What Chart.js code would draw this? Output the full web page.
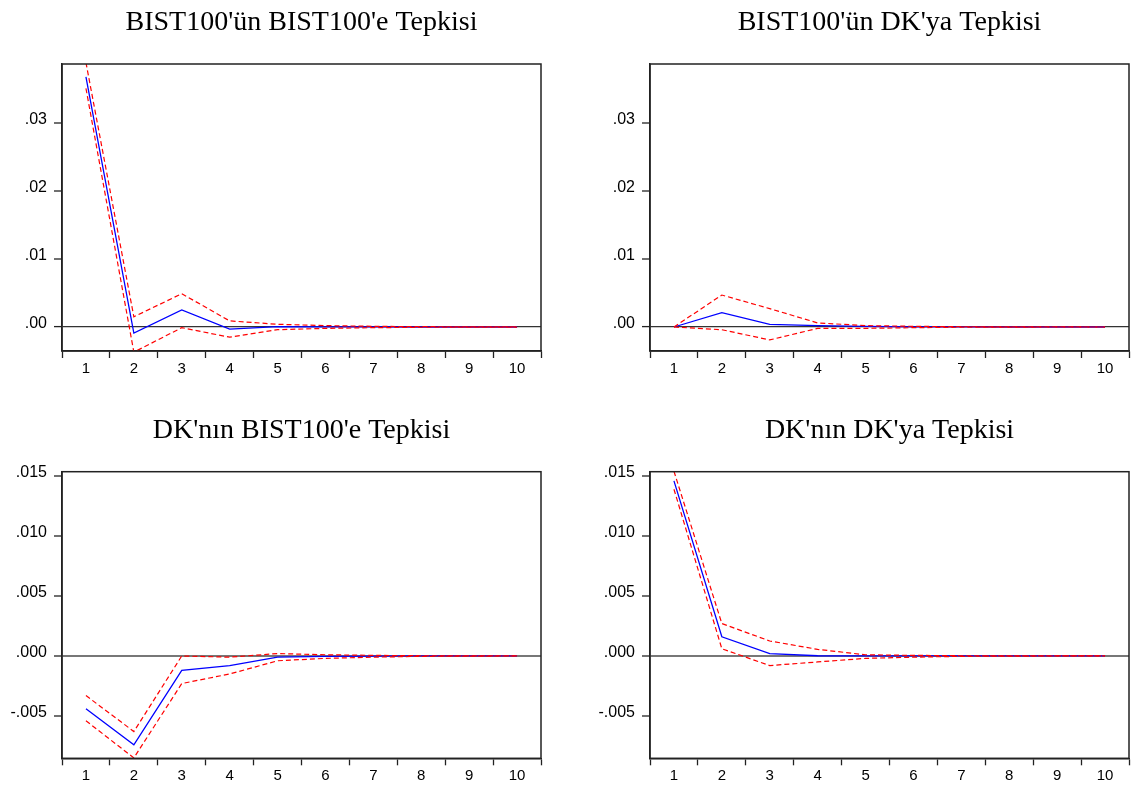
<!DOCTYPE html>
<html>
<head>
<meta charset="utf-8">
<script src="https://cdn.jsdelivr.net/npm/chart.js@4/dist/chart.umd.min.js"></script>
<style>
  html, body { margin: 0; padding: 0; background: #ffffff; }
  body { width: 1132px; height: 789px; position: relative; overflow: hidden; }
  .panel { position: absolute; }
</style>
</head>
<body>
<div class="panel" style="left:0px;top:0px;width:566px;height:400px"><canvas id="c1" width="566" height="400"></canvas></div>
<div class="panel" style="left:566px;top:0px;width:566px;height:400px"><canvas id="c2" width="566" height="400"></canvas></div>
<div class="panel" style="left:0px;top:400px;width:566px;height:389px"><canvas id="c3" width="566" height="389"></canvas></div>
<div class="panel" style="left:566px;top:400px;width:566px;height:389px"><canvas id="c4" width="566" height="389"></canvas></div>
<script>
// ---- Data ----
const periods = ['1', '2', '3', '4', '5', '6', '7', '8', '9', '10'];

const titles = [
  "BIST100'ün BIST100'e Tepkisi",
  "BIST100'ün DK'ya Tepkisi",
  "DK'nın BIST100'e Tepkisi",
  "DK'nın DK'ya Tepkisi"
];

// y tick values and labels
const yTicksTop = [0, 0.01, 0.02, 0.03];
const yTickLabelsTop = ['.00', '.01', '.02', '.03'];
const yTicksBottom = [-0.005, 0, 0.005, 0.010, 0.015];
const yTickLabelsBottom = ['-.005', '.000', '.005', '.010', '.015'];
const yRangeTop = [-0.00353, 0.03868];
const yRangeBottom = [-0.00853, 0.01536];

// BIST100 response to BIST100
const bbResp  = [0.0368, -0.0009, 0.0025, -0.0003, 0.00005, 0.00002, 0.00001, 0, 0, 0];
const bbUpper = [0.0389, 0.0015, 0.0049, 0.0009, 0.0004, 0.0002, 0.0001, 0.00005, 0.00002, 0.00001];
const bbLower = [0.0351, -0.0037, -0.0001, -0.0015, -0.0004, -0.0002, -0.0001, -0.00004, -0.00002, -0.00001];

// BIST100 response to DK
const bdResp  = [0, 0.0021, 0.0004, 0.0002, 0.0001, 0.00003, 0.00001, 0, 0, 0];
const bdUpper = [0, 0.0047, 0.0027, 0.0006, 0.0002, 0.0001, 0.00004, 0.00002, 0.00001, 0];
const bdLower = [0, -0.0004, -0.0019, -0.0002, -0.0002, -0.0001, -0.00003, -0.00001, 0, 0];

// DK response to BIST100
const dbResp  = [-0.0044, -0.0074, -0.0012, -0.0008, -0.0001, -0.00003, -0.00001, 0, 0, 0];
const dbUpper = [-0.0033, -0.0063, 0.0000, -0.0001, 0.0002, 0.0001, 0.00005, 0.00002, 0.00001, 0];
const dbLower = [-0.0054, -0.0085, -0.0023, -0.0015, -0.0004, -0.0002, -0.0001, -0.00003, -0.00001, 0];

// DK response to DK
const ddResp  = [0.0146, 0.0016, 0.0002, 0.00002, 0.00001, 0, 0, 0, 0, 0];
const ddUpper = [0.0154, 0.0027, 0.00125, 0.00055, 0.0001, 0.00005, 0.00002, 0.00001, 0, 0];
const ddLower = [0.0139, 0.0006, -0.0008, -0.0005, -0.0002, -0.0001, -0.00003, -0.00001, 0, 0];

// ---- Rendering ----
const framePlugin = {
  id: 'frame',
  afterDatasetsDraw(chart) {
    const a = chart.chartArea, ctx = chart.ctx;
    ctx.save();
    ctx.strokeStyle = '#222';
    ctx.lineWidth = 1.5;
    ctx.strokeRect(a.left, a.top, a.right - a.left, a.bottom - a.top);
    ctx.restore();
  }
};

function makeChart(id, title, resp, upper, lower, cfg) {
  const ds = [
    { data: upper, borderColor: '#ff0000', borderWidth: 1.2, borderDash: [5, 3], order: 0 },
    { data: lower, borderColor: '#ff0000', borderWidth: 1.2, borderDash: [5, 3], order: 0 },
    { data: resp,  borderColor: '#0000ff', borderWidth: 1.3, order: 1 }
  ].map(d => Object.assign({ pointRadius: 0, tension: 0, fill: false }, d));

  return new Chart(document.getElementById(id), {
    type: 'line',
    data: { labels: periods, datasets: ds },
    plugins: [framePlugin],
    options: {
      responsive: false,
      animation: false,
      devicePixelRatio: 1,
      layout: { padding: cfg.padding },
      plugins: {
        legend: { display: false },
        tooltip: { enabled: false },
        title: {
          display: true,
          text: title,
          fullSize: false,
          color: '#000',
          font: { family: '"Liberation Serif", "Times New Roman", serif', size: 28, weight: 'normal', lineHeight: 1.2 },
          padding: { top: cfg.titleTop, bottom: cfg.titleBottom }
        }
      },
      scales: {
        x: {
          type: 'category',
          offset: true,
          afterFit(s) { s.height = 30; },
          grid: { offset: true, drawOnChartArea: false, drawTicks: true, tickLength: 7, tickColor: '#222', tickWidth: 1.3 },
          border: { display: true, color: '#222', width: 1.5 },
          ticks: { color: '#000', padding: 2, maxRotation: 0, autoSkip: false,
                   font: { family: '"Liberation Sans", Arial, sans-serif', size: 15 } }
        },
        y: {
          min: cfg.range[0], max: cfg.range[1],
          afterFit(s) { s.width = cfg.yWidth; },
          afterBuildTicks(s) { s.ticks = cfg.ticks.map(v => ({ value: v })); },
          grid: {
            drawTicks: true, tickLength: 8, tickColor: '#222', tickWidth: 1.3,
            color: c => (c.tick && c.tick.value === 0) ? cfg.zeroColor : 'rgba(0,0,0,0)',
            lineWidth: c => (c.tick && c.tick.value === 0) ? cfg.zeroWidth : 0
          },
          border: { display: true, color: '#222', width: 1.5 },
          ticks: {
            color: '#000', padding: 7, labelOffset: -3,
            font: { family: '"Liberation Sans", Arial, sans-serif', size: 16 },
            callback(v) { const i = cfg.ticks.indexOf(v); return i >= 0 ? cfg.labels[i] : ''; }
          }
        }
      }
    }
  });
}

const topCfg = (yWidth, padRight) => ({
  range: yRangeTop, ticks: yTicksTop, labels: yTickLabelsTop, yWidth,
  padding: { left: 0, right: padRight, top: 0, bottom: 19 },
  titleTop: 6.2, titleBottom: 24.2, zeroColor: '#333', zeroWidth: 1.2
});
const botCfg = (yWidth, padRight) => ({
  range: yRangeBottom, ticks: yTicksBottom, labels: yTickLabelsBottom, yWidth,
  padding: { left: 0, right: padRight, top: 0, bottom: 0.7 },
  titleTop: 13.9, titleBottom: 24.2, zeroColor: '#777', zeroWidth: 2
});

makeChart('c1', titles[0], bbResp, bbUpper, bbLower, topCfg(62, 25));
makeChart('c2', titles[1], bdResp, bdUpper, bdLower, topCfg(84, 3));
makeChart('c3', titles[2], dbResp, dbUpper, dbLower, botCfg(62, 25));
makeChart('c4', titles[3], ddResp, ddUpper, ddLower, botCfg(84, 3));
</script>
</body>
</html>
